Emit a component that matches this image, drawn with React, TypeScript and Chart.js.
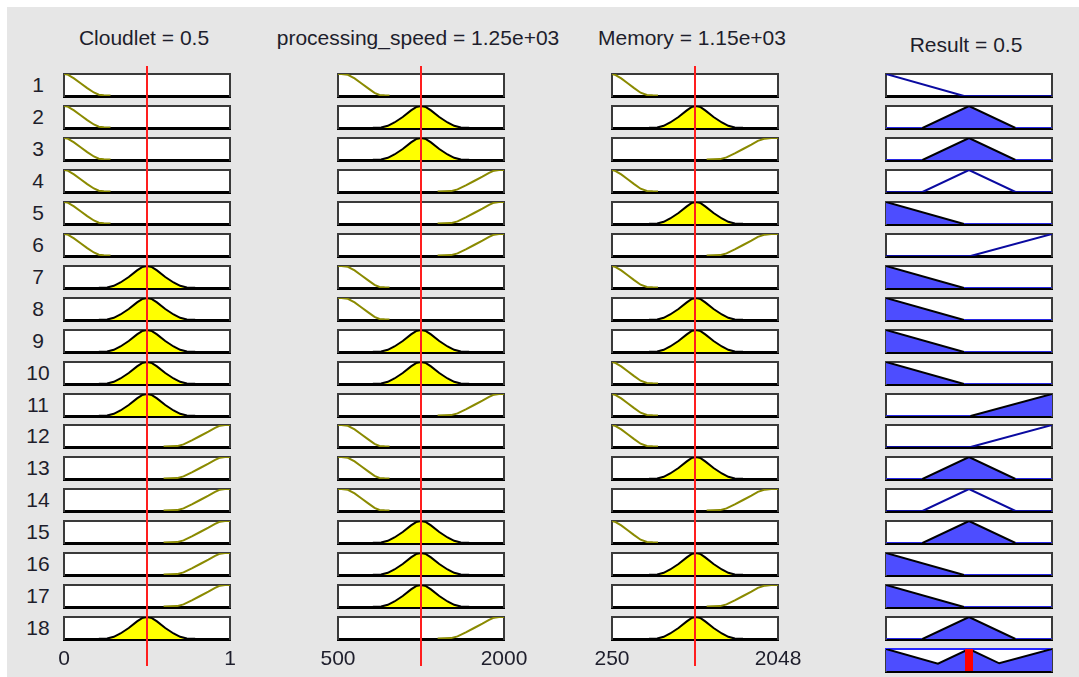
import React, { useEffect, useRef } from "react";
import { Chart, registerables } from "chart.js";

Chart.register(...registerables);

type Pt = [number, number];

// ---------------- data ----------------
const variableTitles = ["Cloudlet = 0.5", "processing_speed = 1.25e+03", "Memory = 1.15e+03", "Result = 0.5"];
const ruleNumbers = ["1", "2", "3", "4", "5", "6", "7", "8", "9", "10", "11", "12", "13", "14", "15", "16", "17", "18"];

const cloudletRange: Pt = [0, 1];
const speedRange: Pt = [500, 2000];
const memoryRange: Pt = [250, 2048];
const resultRange: Pt = [0, 1];

const cloudletTickLabels = ["0", "1"];
const speedTickLabels = ["500", "2000"];
const memoryTickLabels = ["250", "2048"];

const cloudletInput = 0.5;
const speedInput = 1250;
const memoryInput = 1149;
const resultCentroid = 0.5;

const cloudletLow: Pt[] = [[0, 1], [0.02, 0.98], [0.06, 0.8], [0.1, 0.58], [0.14, 0.36], [0.18, 0.16], [0.21, 0.06], [0.24, 0.03], [0.28, 0.02]];
const cloudletMedium: Pt[] = [[0.21, 0.01], [0.26, 0.02], [0.3, 0.1], [0.34, 0.25], [0.39, 0.5], [0.44, 0.8], [0.47, 0.95], [0.5, 1], [0.53, 0.95], [0.56, 0.8], [0.61, 0.5], [0.66, 0.25], [0.7, 0.1], [0.74, 0.02], [0.79, 0.01]];
const cloudletHigh: Pt[] = [[0.6, 0.02], [0.68, 0.04], [0.72, 0.12], [0.77, 0.3], [0.82, 0.5], [0.87, 0.7], [0.91, 0.87], [0.94, 0.97], [0.97, 1], [1, 1]];

const speedLow: Pt[] = [[500, 1], [530, 1], [590, 0.96], [650, 0.8], [710, 0.58], [770, 0.36], [830, 0.14], [875, 0.05], [920, 0.03], [965, 0.02]];
const speedMedium: Pt[] = [[815, 0.01], [890, 0.02], [950, 0.1], [1010, 0.25], [1085, 0.5], [1160, 0.8], [1205, 0.95], [1250, 1], [1295, 0.95], [1340, 0.8], [1415, 0.5], [1490, 0.25], [1550, 0.1], [1610, 0.02], [1685, 0.01]];
const speedHigh: Pt[] = [[1400, 0.02], [1520, 0.04], [1580, 0.12], [1655, 0.3], [1730, 0.5], [1805, 0.7], [1865, 0.87], [1910, 0.97], [1955, 1], [2000, 1]];

const memoryLow: Pt[] = [[250, 1], [280, 0.97], [350, 0.8], [420, 0.58], [490, 0.36], [560, 0.15], [628, 0.05], [690, 0.03], [748, 0.02]];
const memoryMedium: Pt[] = [[650, 0.01], [740, 0.02], [810, 0.1], [880, 0.25], [970, 0.5], [1060, 0.8], [1110, 0.95], [1160, 1], [1210, 0.95], [1260, 0.8], [1350, 0.5], [1440, 0.25], [1510, 0.1], [1580, 0.02], [1670, 0.01]];
const memoryHigh: Pt[] = [[1275, 0.02], [1419, 0.04], [1490, 0.12], [1580, 0.3], [1670, 0.5], [1760, 0.7], [1830, 0.87], [1905, 0.97], [1975, 1], [2048, 1]];

const resultLow: Pt[] = [[0, 1], [0.47, 0], [1, 0]];
const resultMedium: Pt[] = [[0, 0], [0.22, 0], [0.5, 1], [0.78, 0], [1, 0]];
const resultHigh: Pt[] = [[0, 0], [0.51, 0], [1, 1]];

const aggregatedOutput: Pt[] = [[0, 1], [0.313, 0.334], [0.5, 1], [0.682, 0.35], [1, 1]];

const cloudletRuleTerms = ["low", "low", "low", "low", "low", "low", "medium", "medium", "medium", "medium", "medium", "high", "high", "high", "high", "high", "high", "medium"];
const speedRuleTerms = ["low", "medium", "medium", "high", "high", "high", "low", "low", "medium", "medium", "high", "low", "low", "low", "medium", "medium", "medium", "high"];
const memoryRuleTerms = ["low", "medium", "high", "low", "medium", "high", "low", "medium", "medium", "low", "low", "low", "medium", "high", "low", "medium", "high", "medium"];
const resultRuleTerms = ["low", "medium", "medium", "medium", "low", "high", "low", "low", "low", "low", "high", "high", "medium", "medium", "medium", "low", "low", "medium"];
const resultRuleFired = [false, true, true, false, true, false, true, true, true, true, true, false, true, false, true, true, true, true];

// ---------------- styling / layout ----------------
const BG = "#e6e6e6";
const TEXT = "#1e1e2c";
const FONT = "'Liberation Sans', Arial, sans-serif";
const YELLOW = "#ffff00";
const OLIVE = "#8a8a00";
const BLUE_FILL = "rgb(77,77,255)";
const NAVY = "#0a0aa0";
const RED = "rgb(255,30,30)";

const COL_LEFT = [64, 338, 612, 886];
const AREA_W = 166;
const AREA_H = 22;
const PAD = 3;
const rowTop = (i: number) => Math.round(74 + i * 31.95);
const AGG_TOP = 649;

const whiteArea = {
  id: "whiteArea",
  beforeDraw(chart: any) {
    const { ctx, chartArea: a } = chart;
    ctx.save();
    ctx.fillStyle = "#ffffff";
    ctx.fillRect(a.left, a.top, a.width, a.height);
    ctx.restore();
  },
};

const hiddenAxis = (extra: any) => ({
  type: "linear",
  ticks: { display: false },
  grid: { display: false, drawTicks: false },
  ...extra,
});

const baseOptions = {
  animation: false,
  responsive: false,
  events: [],
  plugins: { legend: { display: false }, tooltip: { enabled: false } },
};

function cellConfig(range: Pt, datasets: any[], topBorder = "#3a3a3a") {
  return {
    type: "line",
    data: { datasets },
    options: {
      ...baseOptions,
      layout: { padding: PAD },
      scales: {
        x: hiddenAxis({ min: range[0], max: range[1], position: "bottom", border: { display: true, color: "#000", width: 3 } }),
        y: hiddenAxis({ min: 0, max: 1, position: "left", border: { display: true, color: "#3a3a3a", width: 2 } }),
        x2: hiddenAxis({ min: 0, max: 1, position: "top", border: { display: true, color: topBorder, width: 2 } }),
        y2: hiddenAxis({ min: 0, max: 1, position: "right", border: { display: true, color: "#3a3a3a", width: 2 } }),
      },
    },
    plugins: [whiteArea],
  };
}

const toXY = (pts: Pt[]) => pts.map(([x, y]) => ({ x, y }));

function inputDataset(pts: Pt[], fired: boolean) {
  return {
    data: toXY(pts),
    borderColor: fired ? "#000" : OLIVE,
    borderWidth: 2,
    pointRadius: 0,
    tension: 0,
    fill: fired ? "origin" : false,
    backgroundColor: YELLOW,
  };
}

function resultDataset(pts: Pt[], fired: boolean) {
  return {
    data: toXY(pts),
    borderWidth: 2,
    pointRadius: 0,
    tension: 0,
    fill: fired ? "origin" : false,
    backgroundColor: BLUE_FILL,
    borderColor: fired ? "#000" : NAVY,
    segment: fired
      ? { borderColor: (c: any) => (c.p0.parsed.y === 0 && c.p1.parsed.y === 0 ? "rgb(40,40,230)" : "#000") }
      : undefined,
  };
}

function ChartCanvas({ left, top, width, height, config, z = 1 }: any) {
  const ref = useRef<HTMLCanvasElement>(null);
  useEffect(() => {
    const chart = new Chart(ref.current as HTMLCanvasElement, config);
    return () => chart.destroy();
  }, []);
  return (
    <canvas
      ref={ref}
      width={width}
      height={height}
      style={{ position: "absolute", left, top, width, height, zIndex: z }}
    />
  );
}

function Cell({ col, top, config }: any) {
  return (
    <ChartCanvas
      left={COL_LEFT[col] - PAD}
      top={top - PAD}
      width={AREA_W + 2 * PAD}
      height={AREA_H + 2 * PAD}
      config={config}
    />
  );
}

// red input-value line spanning all rule rows of a column
function overlayConfig(range: Pt, value: number) {
  return {
    type: "line",
    data: {
      datasets: [
        {
          data: [{ x: value, y: 0 }, { x: value, y: 1 }],
          borderColor: RED,
          borderWidth: 2,
          pointRadius: 0,
          fill: false,
        },
      ],
    },
    options: {
      ...baseOptions,
      layout: { padding: { left: 40, right: 40, top: 0, bottom: 0 } },
      scales: {
        x: { type: "linear", min: range[0], max: range[1], display: false },
        y: { type: "linear", min: 0, max: 1, display: false },
      },
    },
  };
}

// range labels under each input column
function axisConfig(range: Pt, tickLabels: string[]) {
  return {
    type: "line",
    data: { datasets: [] },
    options: {
      ...baseOptions,
      layout: { padding: { left: 40, right: 40, top: 0, bottom: 0 } },
      scales: {
        x: {
          type: "linear",
          min: range[0],
          max: range[1],
          grid: { display: false, drawTicks: false },
          border: { display: false },
          afterBuildTicks: (s: any) => {
            s.ticks = [{ value: range[0] }, { value: range[1] }];
          },
          afterFit: (s: any) => {
            s.height = 27;
          },
          ticks: {
            autoSkip: false,
            maxRotation: 0,
            padding: 0,
            color: TEXT,
            font: { family: FONT, size: 21 },
            callback: (_v: any, i: number) => tickLabels[i],
          },
        },
        y: { type: "linear", min: 0, max: 1, display: false },
      },
    },
  };
}

const inputVars = [
  { terms: cloudletRuleTerms, mfs: { low: cloudletLow, medium: cloudletMedium, high: cloudletHigh } as Record<string, Pt[]>, range: cloudletRange, value: cloudletInput, ticks: cloudletTickLabels },
  { terms: speedRuleTerms, mfs: { low: speedLow, medium: speedMedium, high: speedHigh } as Record<string, Pt[]>, range: speedRange, value: speedInput, ticks: speedTickLabels },
  { terms: memoryRuleTerms, mfs: { low: memoryLow, medium: memoryMedium, high: memoryHigh } as Record<string, Pt[]>, range: memoryRange, value: memoryInput, ticks: memoryTickLabels },
];
const resultMfs: Record<string, Pt[]> = { low: resultLow, medium: resultMedium, high: resultHigh };

export default function App() {
  const titleCenters = [144, 418, 692, 966];
  const titleY = [38, 38, 38, 45];
  const elements: React.ReactNode[] = [];

  inputVars.forEach((v, col) => {
    v.terms.forEach((term, i) => {
      elements.push(
        <Cell
          key={`c${col}-${i}`}
          col={col}
          top={rowTop(i)}
          config={cellConfig(v.range, [inputDataset(v.mfs[term], term === "medium")])}
        />
      );
    });
    elements.push(
      <ChartCanvas
        key={`ax${col}`}
        left={COL_LEFT[col] - 40}
        top={646}
        width={AREA_W + 80}
        height={28}
        z={2}
        config={axisConfig(v.range, v.ticks)}
      />
    );
    elements.push(
      <ChartCanvas
        key={`ov${col}`}
        left={COL_LEFT[col] - 40}
        top={66}
        width={AREA_W + 80}
        height={600}
        z={5}
        config={overlayConfig(v.range, v.value)}
      />
    );
  });

  resultRuleTerms.forEach((term, i) => {
    elements.push(
      <Cell
        key={`r${i}`}
        col={3}
        top={rowTop(i)}
        config={cellConfig(resultRange, [resultDataset(resultMfs[term], resultRuleFired[i])])}
      />
    );
  });

  elements.push(
    <Cell
      key="agg"
      col={3}
      top={AGG_TOP}
      config={cellConfig(
        resultRange,
        [
          {
            data: [{ x: resultCentroid, y: 0 }, { x: resultCentroid, y: 1 }],
            borderColor: "#ff0000",
            borderWidth: 8,
            pointRadius: 0,
            fill: false,
          },
          {
            data: toXY(aggregatedOutput),
            borderColor: "#000",
            borderWidth: 2,
            pointRadius: 0,
            tension: 0,
            fill: "origin",
            backgroundColor: BLUE_FILL,
          },
        ],
        "rgb(40,40,255)"
      )}
    />
  );

  return (
    <div style={{ position: "fixed", left: 0, top: 0, width: 1079, height: 677, background: "#ffffff", overflow: "hidden" }}>
      <div style={{ position: "absolute", left: 7, top: 7, right: 0, bottom: 0, background: BG }} />
      {variableTitles.map((t, i) => (
        <div
          key={`t${i}`}
          style={{
            position: "absolute",
            left: titleCenters[i] - 200,
            width: 400,
            top: titleY[i] - 13,
            height: 26,
            lineHeight: "26px",
            textAlign: "center",
            fontFamily: FONT,
            fontSize: 21,
            color: TEXT,
            whiteSpace: "nowrap",
          }}
        >
          {t}
        </div>
      ))}
      {ruleNumbers.map((n, i) => (
        <div
          key={`n${i}`}
          style={{
            position: "absolute",
            left: 18,
            width: 40,
            top: rowTop(i) + 11 - 13,
            height: 26,
            lineHeight: "26px",
            textAlign: "center",
            fontFamily: FONT,
            fontSize: 21,
            color: TEXT,
          }}
        >
          {n}
        </div>
      ))}
      {elements}
    </div>
  );
}
